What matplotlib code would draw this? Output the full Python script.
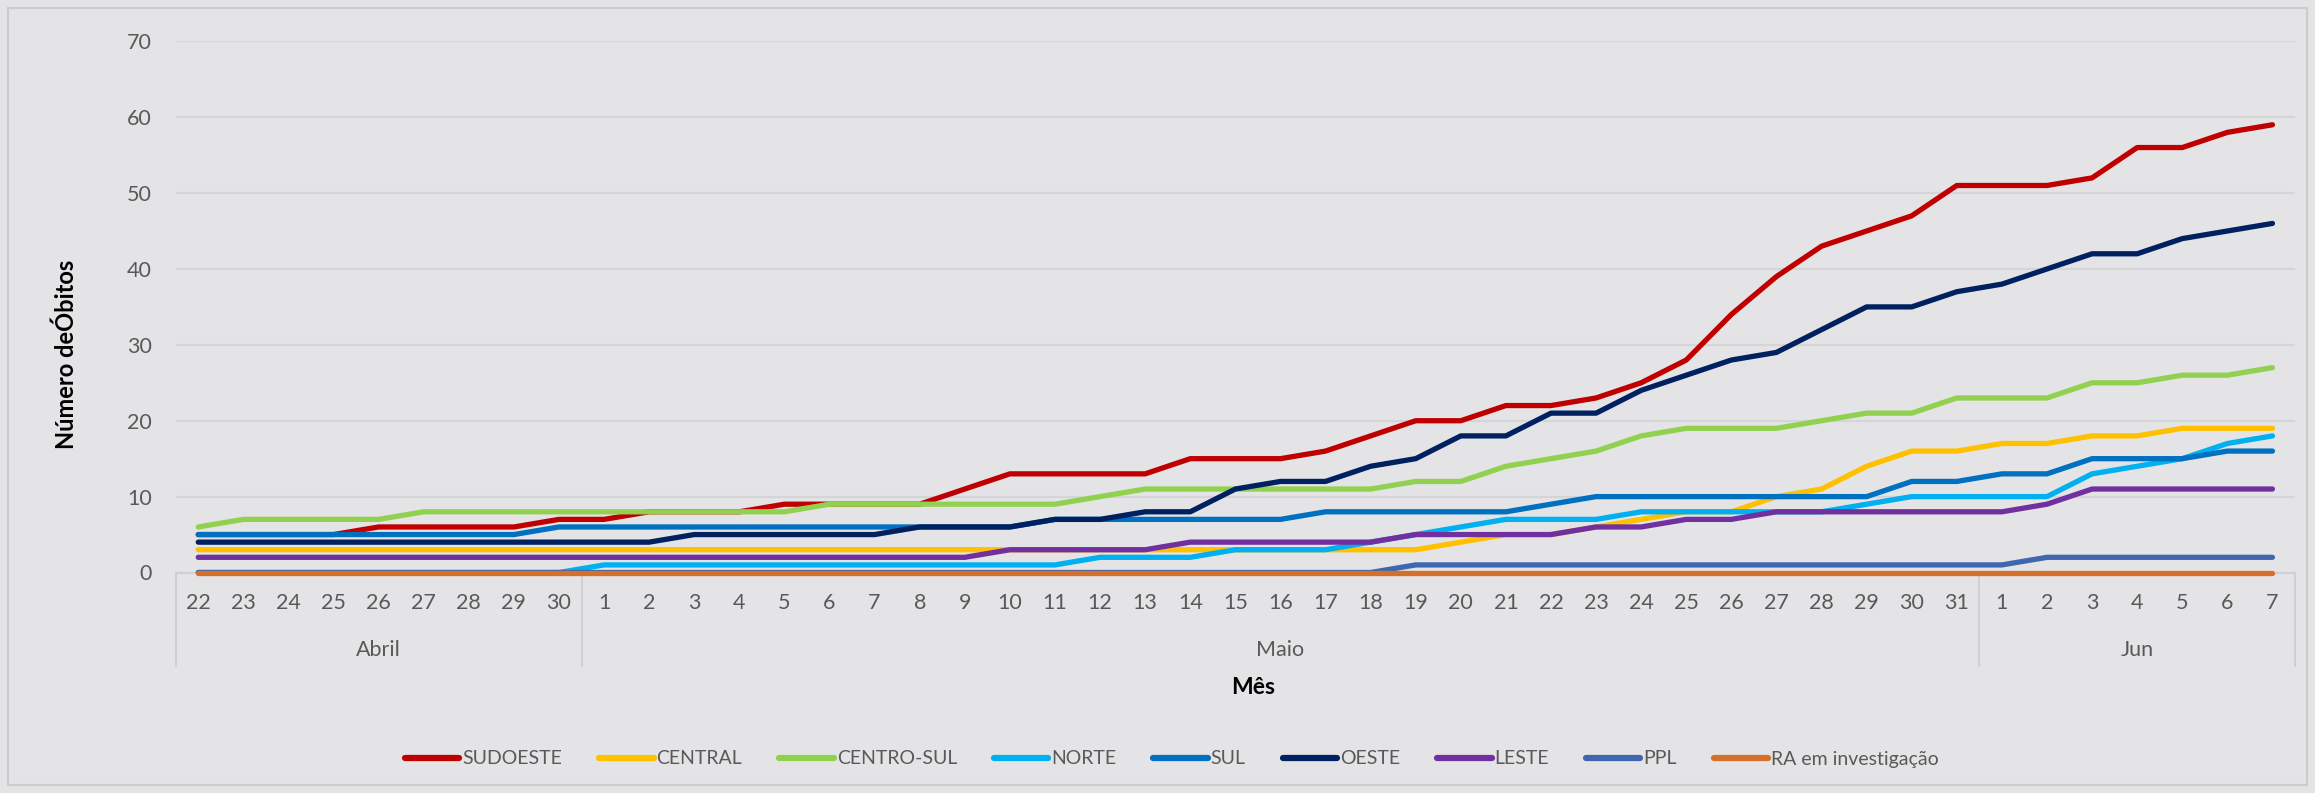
import matplotlib
matplotlib.use('Agg')
import matplotlib.pyplot as plt
import matplotlib.transforms as mtransforms
from matplotlib.patches import Rectangle

plt.rcParams['font.family'] = ['Lato', 'DejaVu Sans']

# ---------------- data ----------------
days = ['22', '23', '24', '25', '26', '27', '28', '29', '30',
        '1', '2', '3', '4', '5', '6', '7', '8', '9', '10',
        '11', '12', '13', '14', '15', '16', '17', '18', '19', '20',
        '21', '22', '23', '24', '25', '26', '27', '28', '29', '30', '31',
        '1', '2', '3', '4', '5', '6', '7']
months = ['Abril', 'Maio', 'Jun']
month_counts = [9, 31, 7]

sudoeste = [5, 5, 5, 5, 6, 6, 6, 6, 7,
            7, 8, 8, 8, 9, 9, 9, 9, 11, 13,
            13, 13, 13, 15, 15, 15, 16, 18, 20, 20,
            22, 22, 23, 25, 28, 34, 39, 43, 45, 47, 51,
            51, 51, 52, 56, 56, 58, 59]
central = [3, 3, 3, 3, 3, 3, 3, 3, 3,
           3, 3, 3, 3, 3, 3, 3, 3, 3, 3,
           3, 3, 3, 3, 3, 3, 3, 3, 3, 4,
           5, 5, 6, 7, 8, 8, 10, 11, 14, 16, 16,
           17, 17, 18, 18, 19, 19, 19]
centro_sul = [6, 7, 7, 7, 7, 8, 8, 8, 8,
              8, 8, 8, 8, 8, 9, 9, 9, 9, 9,
              9, 10, 11, 11, 11, 11, 11, 11, 12, 12,
              14, 15, 16, 18, 19, 19, 19, 20, 21, 21, 23,
              23, 23, 25, 25, 26, 26, 27]
norte = [0, 0, 0, 0, 0, 0, 0, 0, 0,
         1, 1, 1, 1, 1, 1, 1, 1, 1, 1,
         1, 2, 2, 2, 3, 3, 3, 4, 5, 6,
         7, 7, 7, 8, 8, 8, 8, 8, 9, 10, 10,
         10, 10, 13, 14, 15, 17, 18]
sul = [5, 5, 5, 5, 5, 5, 5, 5, 6,
       6, 6, 6, 6, 6, 6, 6, 6, 6, 6,
       7, 7, 7, 7, 7, 7, 8, 8, 8, 8,
       8, 9, 10, 10, 10, 10, 10, 10, 10, 12, 12,
       13, 13, 15, 15, 15, 16, 16]
oeste = [4, 4, 4, 4, 4, 4, 4, 4, 4,
         4, 4, 5, 5, 5, 5, 5, 6, 6, 6,
         7, 7, 8, 8, 11, 12, 12, 14, 15, 18,
         18, 21, 21, 24, 26, 28, 29, 32, 35, 35, 37,
         38, 40, 42, 42, 44, 45, 46]
leste = [2, 2, 2, 2, 2, 2, 2, 2, 2,
         2, 2, 2, 2, 2, 2, 2, 2, 2, 3,
         3, 3, 3, 4, 4, 4, 4, 4, 5, 5,
         5, 5, 6, 6, 7, 7, 8, 8, 8, 8, 8,
         8, 9, 11, 11, 11, 11, 11]
ppl = [0, 0, 0, 0, 0, 0, 0, 0, 0,
       0, 0, 0, 0, 0, 0, 0, 0, 0, 0,
       0, 0, 0, 0, 0, 0, 0, 0, 1, 1,
       1, 1, 1, 1, 1, 1, 1, 1, 1, 1, 1,
       1, 2, 2, 2, 2, 2, 2]
ra_invest = [0] * 47

series_names = ['SUDOESTE', 'CENTRAL', 'CENTRO-SUL', 'NORTE', 'SUL',
                'OESTE', 'LESTE', 'PPL', 'RA em investigação']
series_values = [sudoeste, central, centro_sul, norte, sul,
                 oeste, leste, ppl, ra_invest]
series_colors = ['#C00000', '#FFC000', '#92D050', '#00B0F0', '#0070C0',
                 '#002060', '#7030A0', '#3F66AE', '#D5702C']

# ---------------- figure ----------------
W, H = 2315, 793
BG = '#E4E4E6'
fig = plt.figure(figsize=(W / 100, H / 100), dpi=100, facecolor=BG)
fig.patches.append(Rectangle((8 / W, 8 / H), (W - 16) / W, (H - 16) / H,
                             transform=fig.transFigure, fill=False,
                             edgecolor='#CCCCCC', linewidth=1.5))

ax_left, ax_right, ax_top, ax_bottom = 175.7, 2295.0, 41.3, 572.5
ax = fig.add_axes([ax_left / W, 1 - ax_bottom / H,
                   (ax_right - ax_left) / W, (ax_bottom - ax_top) / H])
ax.set_facecolor(BG)

x = list(range(len(days)))
for name, vals, col in zip(series_names, series_values, series_colors):
    ax.plot(x, vals, color=col, lw=3.8, solid_capstyle='round',
            solid_joinstyle='round', label=name, zorder=3, clip_on=False)

ax.set_xlim(-0.5, len(days) - 0.5)
ax.set_ylim(0, 70)
ax.set_yticks(range(0, 80, 10))
ax.yaxis.grid(True, color='#D5D5D7', lw=1.6)
ax.set_axisbelow(True)
for s in ['top', 'right', 'left']:
    ax.spines[s].set_visible(False)
ax.spines['bottom'].set_color('#D0D0D2')
ax.spines['bottom'].set_linewidth(1.5)
ax.tick_params(axis='y', length=0, pad=17, labelsize=15.5, labelcolor='#595959')
ax.set_xticks([])

ax_h = ax_bottom - ax_top
trans = mtransforms.blended_transform_factory(ax.transData, ax.transAxes)

# day labels
for xi, lab in zip(x, days):
    ax.text(xi, -(603 - ax_bottom) / ax_h, lab, transform=trans,
            ha='center', va='center', fontsize=15.5, color='#595959')

# month groups
start = 0
bounds = [-0.5]
for m, n in zip(months, month_counts):
    center = start + (n - 1) / 2
    ax.text(center, -(650 - ax_bottom) / ax_h, m, transform=trans,
            ha='center', va='center', fontsize=15.5, color='#595959')
    start += n
    bounds.append(start - 0.5)
for b in bounds:
    ax.plot([b, b], [0, -(666 - ax_bottom) / ax_h], transform=trans,
            color='#D0D0D2', lw=1.5, clip_on=False)

# axis titles
fig.text(1253 / W, 1 - 688 / H, 'Mês', ha='center', va='center',
         fontsize=16.5, fontweight='bold', color='black')
fig.text(66 / W, 1 - 354 / H, 'Número deÓbitos', ha='center', va='center',
         rotation=90, fontsize=17, fontweight='bold', color='black')

# legend
handles, labels = ax.get_legend_handles_labels()
leg = fig.legend(handles, labels, loc='center',
                 bbox_to_anchor=(1172 / W, 1 - 759 / H), ncol=9,
                 frameon=False, fontsize=14, handlelength=2.8,
                 handletextpad=0.15, columnspacing=1.9, labelcolor='#595959')
for lh in leg.get_lines():
    lh.set_linewidth(4.5)
    lh.set_solid_capstyle('round')

fig.savefig('out.png', dpi=100, facecolor=BG)
